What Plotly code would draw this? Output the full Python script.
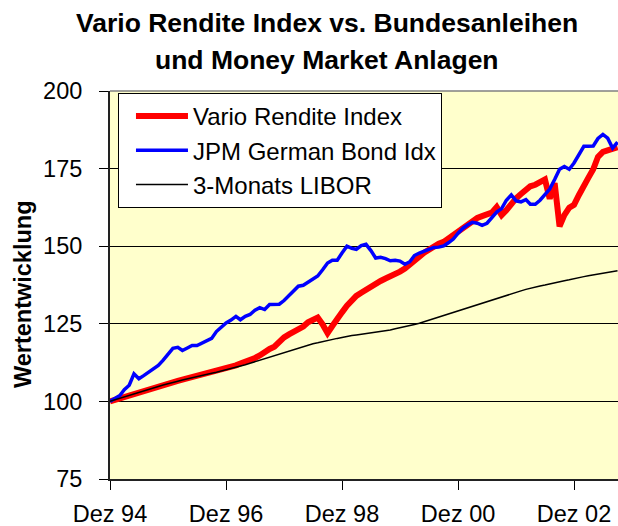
import pandas as pd
import plotly.graph_objects as go

# Monthly observations, Dez 1994 .. Sep 2003 (106 months)
months = pd.date_range("1994-12-01", periods=106, freq="MS")

vario = [
    100.0, 100.5, 101.0, 101.6, 102.1, 102.6, 103.1, 103.6, 104.0, 104.5,
    104.9, 105.4, 105.8, 106.3, 106.6, 107.0, 107.4, 107.7, 108.1, 108.5,
    108.9, 109.3, 109.7, 110.1, 110.6, 111.1, 111.6, 112.2, 112.7, 113.2,
    114.0, 114.8, 116.0, 116.9, 117.6, 119.3, 120.6, 121.6, 122.3, 123.0,
    124.1, 125.5, 126.2, 127.0, 124.8, 122.0, 124.3, 126.8, 128.7, 130.8,
    132.7, 134.0, 135.0, 136.0, 137.3, 138.2, 138.8, 139.6, 140.2, 140.9,
    141.8, 142.8, 144.3, 145.6, 146.6, 147.9, 149.0, 150.1, 150.8, 151.4,
    152.5, 153.6, 155.1, 156.2, 156.9, 158.1, 159.1, 159.7, 160.2, 160.8,
    162.6, 160.0, 161.6, 163.8, 165.4, 166.8, 168.3, 169.3, 169.8, 170.4,
    171.5, 165.3, 170.3, 156.4, 160.0, 162.4, 163.3, 166.5, 169.0, 172.0,
    174.8, 178.8, 180.4, 181.0, 181.4, 181.9,
]

jpm = [
    100.0, 100.9, 101.9, 103.8, 105.2, 108.9, 107.3, 108.3, 109.3, 110.3,
    111.6, 113.3, 115.4, 117.1, 117.4, 116.4, 117.2, 118.0, 118.0, 118.8,
    119.7, 120.3, 122.5, 123.8, 125.3, 126.2, 127.4, 126.3, 127.4, 128.0,
    129.4, 130.2, 129.6, 131.2, 131.2, 131.3, 132.5, 134.2, 135.9, 137.1,
    137.4, 138.4, 139.6, 140.4, 142.4, 144.6, 145.5, 145.5, 147.8, 150.0,
    149.3, 149.0, 150.2, 150.6, 148.6, 146.2, 146.4, 146.0, 145.3, 145.5,
    145.2, 144.2, 145.0, 147.0, 147.8, 148.4, 149.1, 149.6, 149.7, 150.1,
    151.1, 152.3, 154.2, 155.8, 156.9, 157.7, 157.4, 156.7, 157.4, 159.0,
    161.0, 162.1, 164.8, 166.5, 164.6, 164.3, 165.0, 163.5, 163.5, 164.8,
    166.5, 168.4, 171.5, 174.8, 175.7, 174.8, 176.8, 179.5, 182.2, 182.2,
    182.3, 184.7, 186.0, 184.8, 181.6, 183.5,
]

libor = [
    100.0, 100.5, 101.0, 101.5, 102.0, 102.5, 103.0, 103.5, 103.9, 104.4,
    104.8, 105.3, 105.7, 106.2, 106.5, 106.9, 107.3, 107.6, 108.0, 108.3,
    108.7, 109.1, 109.4, 109.8, 110.2, 110.5, 110.9, 111.3, 111.8, 112.3,
    112.8, 113.2, 113.7, 114.2, 114.7, 115.2, 115.7, 116.2, 116.7, 117.2,
    117.6, 118.1, 118.6, 118.9, 119.3, 119.6, 120.0, 120.3, 120.6, 121.0,
    121.2, 121.4, 121.6, 121.8, 122.0, 122.3, 122.5, 122.7, 123.0, 123.4,
    123.7, 124.1, 124.5, 124.8, 125.2, 125.7, 126.2, 126.7, 127.2, 127.6,
    128.1, 128.6, 129.1, 129.6, 130.1, 130.6, 131.1, 131.6, 132.1, 132.6,
    133.1, 133.6, 134.1, 134.6, 135.1, 135.6, 136.1, 136.5, 136.8, 137.2,
    137.5, 137.9, 138.2, 138.6, 138.9, 139.2, 139.6, 139.9, 140.2, 140.5,
    140.8, 141.1, 141.4, 141.6, 141.9, 142.1,
]

series_names = ["Vario Rendite Index", "JPM German Bond Idx", "3-Monats LIBOR"]
tick_dates = ["1994-12-01", "1996-12-01", "1998-12-01", "2000-12-01", "2002-12-01"]
tick_labels = ["Dez 94", "Dez 96", "Dez 98", "Dez 00", "Dez 02"]
y_ticks = [75, 100, 125, 150, 175, 200]

FONT = "Liberation Sans, Arial, sans-serif"

fig = go.Figure()
fig.add_trace(go.Scatter(x=months, y=vario, mode="lines", name=series_names[0],
                         line=dict(color="#FF0000", width=6)))
fig.add_trace(go.Scatter(x=months, y=jpm, mode="lines", name=series_names[1],
                         line=dict(color="#0000FF", width=3.5)))
fig.add_trace(go.Scatter(x=months, y=libor, mode="lines", name=series_names[2],
                         line=dict(color="#000000", width=1.5)))

fig.update_layout(
    width=618, height=526,
    margin=dict(l=110, r=0, t=91, b=47, autoexpand=False),
    paper_bgcolor="white",
    plot_bgcolor="#FFFFCC",
    font=dict(family=FONT, size=23.5, color="black"),
    showlegend=True,
    legend=dict(
        x=0.0157, y=0.9948, xanchor="left", yanchor="top",
        bgcolor="white", bordercolor="black", borderwidth=1,
        font=dict(family=FONT, size=24, color="black"),
        itemwidth=52, indentation=12,
    ),
    xaxis=dict(
        type="date", automargin=False,
        range=["1994-12-01", "2003-09-04"],
        tickvals=tick_dates, ticktext=tick_labels,
        ticks="outside", ticklen=9, tickwidth=1, tickcolor="black",
        showline=True, linecolor="#222222", linewidth=2,
        showgrid=False, zeroline=False,
        tickfont=dict(family=FONT, size=23.5, color="black"),
        ticklabelstandoff=4,
    ),
    yaxis=dict(
        range=[75, 200], automargin=False,
        tickvals=y_ticks,
        ticks="outside", ticklen=9, tickwidth=1, tickcolor="black",
        showline=True, linecolor="#222222", linewidth=2,
        showgrid=True, gridcolor="black", gridwidth=1,
        zeroline=False,
        tickfont=dict(family=FONT, size=23.5, color="black"),
        ticklabelstandoff=12,
    ),
    shapes=[
        dict(type="line", xref="paper", yref="paper", x0=0, x1=1, y0=1, y1=1,
             line=dict(color="#808080", width=1.5), layer="above"),
    ],
    annotations=[
        dict(text="<b>Vario Rendite Index vs. Bundesanleihen</b>",
             xref="paper", yref="paper", x=0.427, y=1.1765,
             xanchor="center", yanchor="middle", showarrow=False,
             font=dict(family=FONT, size=26.5, color="black")),
        dict(text="<b>und Money Market Anlagen</b>",
             xref="paper", yref="paper", x=0.427, y=1.0799,
             xanchor="center", yanchor="middle", showarrow=False,
             font=dict(family=FONT, size=26.5, color="black")),
        dict(text="<b>Wertentwicklung</b>",
             xref="paper", yref="paper", x=-0.171, y=0.477,
             xanchor="center", yanchor="middle", textangle=-90, showarrow=False,
             font=dict(family=FONT, size=23.5, color="black")),
    ],
)

# remove the page's default body margin so the 618x526 figure fills the window exactly
fig.write_html(
    "out.html",
    config={"displayModeBar": False},
    post_script="document.body.style.margin='0';"
                "document.documentElement.style.overflow='hidden';"
                "document.body.style.overflow='hidden';",
)
